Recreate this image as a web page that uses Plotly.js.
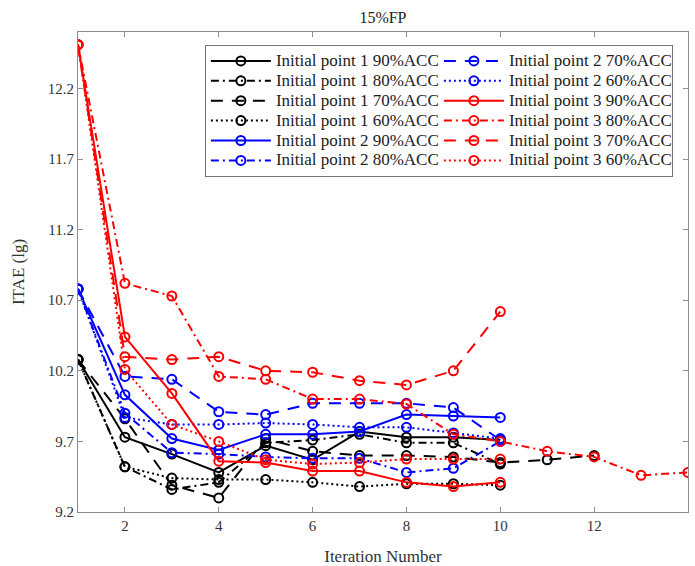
<!DOCTYPE html>
<html>
<head>
<meta charset="utf-8">
<script src="https://cdn.plot.ly/plotly-3.0.1.min.js"></script>
<style>html,body{margin:0;padding:0;background:#fff;}#chart{width:695px;height:566px;}</style>
</head>
<body>
<div id="chart"></div>
<script>
// Iteration numbers
const iter10 = [1, 2, 3, 4, 5, 6, 7, 8, 9, 10];
const iter12 = [1, 2, 3, 4, 5, 6, 7, 8, 9, 10, 11, 12];
const iter14 = [1, 2, 3, 4, 5, 6, 7, 8, 9, 10, 11, 12, 13, 14];

// ITAE (lg) values
const ip1_90 = [10.28, 9.73, 9.61, 9.48, 9.67, 9.57, 9.77, 9.73, 9.73, 9.71];
const ip1_80 = [10.28, 9.52, 9.36, 9.41, 9.69, 9.71, 9.75, 9.69, 9.69, 9.54];
const ip1_70 = [10.28, 9.86, 9.39, 9.30, 9.72, 9.63, 9.60, 9.60, 9.59, 9.55, 9.57, 9.60];
const ip1_60 = [10.28, 9.52, 9.44, 9.43, 9.43, 9.41, 9.38, 9.40, 9.40, 9.39];
const ip2_90 = [10.78, 10.03, 9.72, 9.64, 9.75, 9.75, 9.77, 9.89, 9.88, 9.87];
const ip2_80 = [10.78, 9.90, 9.62, 9.61, 9.59, 9.58, 9.58, 9.48, 9.51, 9.70];
const ip2_70 = [10.78, 10.16, 10.14, 9.91, 9.89, 9.97, 9.97, 9.97, 9.94, 9.71];
const ip2_60 = [10.78, 9.87, 9.82, 9.82, 9.83, 9.82, 9.80, 9.80, 9.76, 9.72];
const ip3_90 = [12.51, 10.44, 10.04, 9.56, 9.55, 9.49, 9.49, 9.41, 9.38, 9.41];
const ip3_80 = [12.51, 10.82, 10.73, 10.16, 10.14, 10.00, 10.00, 9.965, 9.75, 9.70, 9.63, 9.59, 9.46, 9.48];
const ip3_70 = [12.51, 10.30, 10.28, 10.30, 10.20, 10.19, 10.13, 10.10, 10.20, 10.62];
const ip3_60 = [12.51, 10.21, 9.82, 9.70, 9.57, 9.54, 9.55, 9.575, 9.575, 9.575];

const names = [
  "Initial point 1 90%ACC", "Initial point 1 80%ACC", "Initial point 1 70%ACC", "Initial point 1 60%ACC",
  "Initial point 2 90%ACC", "Initial point 2 80%ACC", "Initial point 2 70%ACC", "Initial point 2 60%ACC",
  "Initial point 3 90%ACC", "Initial point 3 80%ACC", "Initial point 3 70%ACC", "Initial point 3 60%ACC"
];
const xTickVals = [2, 4, 6, 8, 10, 12, 14];
const yTickVals = [9.2, 9.7, 10.2, 10.7, 11.2, 11.7, 12.2];
const yTickText = ["9.2", "9.7", "10.2", "10.7", "11.2", "11.7", "12.2"];

const series = [
  [iter10, ip1_90], [iter10, ip1_80], [iter12, ip1_70], [iter10, ip1_60],
  [iter10, ip2_90], [iter10, ip2_80], [iter10, ip2_70], [iter10, ip2_60],
  [iter10, ip3_90], [iter14, ip3_80], [iter10, ip3_70], [iter10, ip3_60]
];
const colors = ["#000000", "#0000ff", "#ff0000"];
const dashes = ["solid", "8px,4px,2px,4px", "12px,9px", "2px,3px"];
// legend order: two columns filled row-wise
const rankOrder = [0, 6, 1, 7, 2, 8, 3, 9, 4, 10, 5, 11];

const traces = series.map((s, i) => ({
  x: s[0], y: s[1], type: "scatter", mode: "lines+markers",
  name: '<span style="font-size:17px">' + names[i] + '</span>',
  line: {color: colors[Math.floor(i / 4)], width: 2, dash: dashes[i % 4]},
  marker: {symbol: "circle-open", size: 9, color: colors[Math.floor(i / 4)], line: {width: 2}},
  legendrank: (rankOrder.indexOf(i) + 1) * 10
}));

const serif = "Liberation Serif, Times New Roman, serif";
const axisCommon = {
  showline: true, mirror: "ticks", linecolor: "#8c8c8c", linewidth: 1,
  ticks: "inside", ticklen: 5, tickcolor: "#8c8c8c", showgrid: false, zeroline: false,
  tickfont: {family: serif, size: 15, color: "#333"}
};

const layout = {
  width: 695, height: 566,
  margin: {l: 78, r: 7, t: 32, b: 54},
  paper_bgcolor: "#fff", plot_bgcolor: "#fff",
  font: {family: serif, color: "#222"},
  title: {text: "15%FP", x: 0.551, xanchor: "center", y: 0.97, yanchor: "middle",
          font: {size: 16, family: serif, color: "#222"}},
  xaxis: Object.assign({}, axisCommon, {
    range: [1, 14], tickvals: xTickVals,
    title: {text: "Iteration Number", standoff: 17, font: {size: 17, family: serif, color: "#333"}}
  }),
  yaxis: Object.assign({}, axisCommon, {
    range: [9.2, 12.6], tickvals: yTickVals, ticktext: yTickText,
    title: {text: "ITAE (lg)", standoff: 18, font: {size: 17, family: serif, color: "#333"}}
  }),
  showlegend: true,
  legend: {
    orientation: "h", x: 0.208, xanchor: "left", y: 0.973, yanchor: "top",
    bgcolor: "#fff", bordercolor: "#777", borderwidth: 1,
    entrywidth: 158, entrywidthmode: "pixels", itemwidth: 60, tracegroupgap: 0,
    font: {family: serif, size: 13, color: "#222"}
  }
};

Plotly.newPlot("chart", traces, layout, {displayModeBar: false, staticPlot: true});
</script>
</body>
</html>
